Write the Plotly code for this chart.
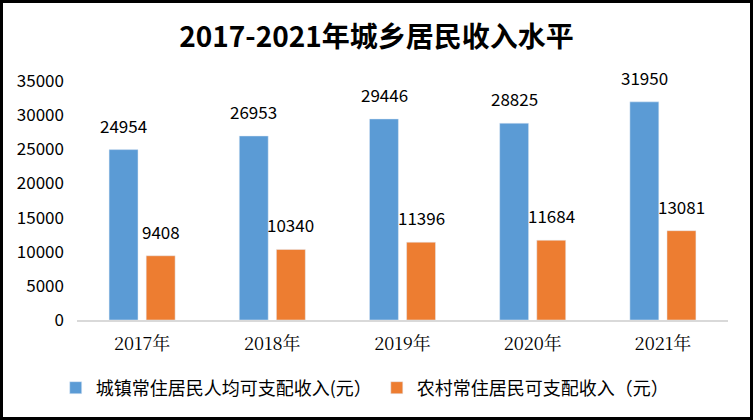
import plotly.graph_objects as go

years = ["2017年", "2018年", "2019年", "2020年", "2021年"]
urban = [24954, 26953, 29446, 28825, 31950]
rural = [9408, 10340, 11396, 11684, 13081]
urban_name = "城镇常住居民人均可支配收入(元）"
rural_name = "农村常住居民可支配收入（元）"

W, H = 753, 420
ml, mr, mt, mb = 77, 25, 81, 100
pw, ph = W - ml - mr, H - mt - mb

fig = go.Figure()
fig.add_trace(go.Bar(x=years, y=urban, name=urban_name, marker_color="#5B9BD5"))
fig.add_trace(go.Bar(x=years, y=rural, name=rural_name, marker_color="#ED7D31"))

# value labels above bars (offset to each bar of the group)
for vals, shift in ((urban, -18.5), (rural, 18.5)):
    for yr, v in zip(years, vals):
        fig.add_annotation(x=yr, y=v, text=str(v), showarrow=False,
                           xanchor="center", yanchor="bottom",
                           xshift=shift, yshift=10,
                           font=dict(size=17, color="black"))

# black frame round the whole picture
fig.add_shape(type="rect", xref="paper", yref="paper",
              x0=-(ml - 1.5) / pw, x1=1 + (mr - 1.5) / pw,
              y0=-(mb - 1.5) / ph, y1=1 + (mt - 1.5) / ph,
              line=dict(color="black", width=3))

fig.update_layout(
    width=W, height=H,
    margin=dict(l=ml, r=mr, t=mt, b=mb),
    paper_bgcolor="white", plot_bgcolor="white",
    font=dict(family="Noto Sans CJK SC", color="#000000"),
    title=dict(text="<b>2017-2021年城乡居民收入水平</b>", x=0.5, xanchor="center",
               y=1 - 37 / H, yanchor="middle", font=dict(size=28, color="black")),
    barmode="group", bargap=0.43, bargroupgap=0.22,
    showlegend=True,
    legend=dict(orientation="h", xref="container", x=0.485, xanchor="center",
                yref="container", y=(H - 388) / H, yanchor="middle",
                font=dict(size=18), itemwidth=30),
    xaxis=dict(showline=True, linecolor="#D9D9D9", linewidth=1.5, ticks="",
               ticklabelstandoff=7,
               tickfont=dict(size=18, family="Noto Serif CJK SC, serif")),
    yaxis=dict(range=[0, 35000], dtick=5000, tickformat="d", showgrid=False,
               zeroline=False, showline=False, tickfont=dict(size=17),
               ticklabelstandoff=12),
)

fig.write_html("out.html", config={"displayModeBar": False},
               post_script="document.body.style.margin='0';")
